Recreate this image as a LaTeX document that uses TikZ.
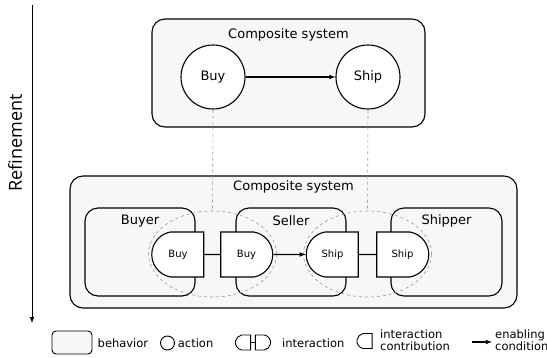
\documentclass[tikz,border=0pt]{standalone}
\usepackage{fontspec}
\setmainfont{DejaVu Sans}
\newfontfamily\refinefont{Open Sans}
\usetikzlibrary {positioning}
\usetikzlibrary{arrows}
\usetikzlibrary{shapes.geometric}
\usetikzlibrary{shapes.misc}

\begin{document}
\begin{tikzpicture}[x=1pt, y=-1pt,
	behavior/.style={draw, line width=1.1pt, fill=gray!6, rounded corners=13pt, inner sep=0pt},
	title/.style={font=\fontsize{13}{15}\selectfont, inner sep=0pt},
	action/.style={circle, draw, line width=1.1pt, fill=white, minimum size=64pt, inner sep=0pt, font=\fontsize{13}{15}\selectfont},
	contribL/.style={rounded rectangle, rounded rectangle east arc=none, rounded rectangle arc length=160, draw, line width=1.1pt, fill=white, minimum width=52pt, minimum height=45pt, inner sep=0pt, font=\fontsize{10}{12}\selectfont},
	contribR/.style={rounded rectangle, rounded rectangle west arc=none, rounded rectangle arc length=160, draw, line width=1.1pt, fill=white, minimum width=52pt, minimum height=45pt, inner sep=0pt, font=\fontsize{10}{12}\selectfont},
	interaction/.style={ellipse, draw=gray!80, dashed, line width=0.6pt, minimum width=128pt, minimum height=86pt},
	refline/.style={dashed, gray!80, line width=0.6pt},
	enable/.style={-latex, line width=1.1pt},
	legend/.style={font=\fontsize{11.5}{12.5}\selectfont, anchor=west, inner sep=0pt, align=left}
	]
	 \useasboundingbox (0,0) rectangle (547,357);

	 % Refinement axis
	 \coordinate (reftop) at (32,5);
	 \coordinate (refbot) at (32,323);
	 \draw[enable, line width=1pt] (reftop) -- (refbot);
	 \node[rotate=90, inner sep=0pt, font=\refinefont\fontsize{18}{20}\selectfont] (refine) at (15,143) {Refinement};

	 % Abstract composite system
	 \node[behavior, minimum width=273pt, minimum height=108pt] (topsys) at (288.5,73) {};
	 \node[title] (toptitle) at (288.5,35) {Composite system};
	 \node[action] (buy) at (213,77) {Buy};
	 \node[action] (ship) at (368,77) {Ship};
	 \draw[enable] (buy) -- (ship);

	 % Refined composite system
	 \node[behavior, minimum width=447pt, minimum height=132pt] (compsys) at (293.5,242) {};
	 \node[title] (comptitle) at (293.5,187) {Composite system};

	 \node[behavior, minimum width=110pt, minimum height=88pt] (buyer) at (140,252) {};
	 \node[behavior, minimum width=110pt, minimum height=88pt] (seller) at (291,252) {};
	 \node[behavior, minimum width=111pt, minimum height=88pt] (shipper) at (446.5,252) {};
	 \node[title] (buyertitle) at (140,221) {Buyer};
	 \node[title] (sellertitle) at (291,221) {Seller};
	 \node[title] (shippertitle) at (446.5,221) {Shipper};

	 \node[interaction] (buyint) at (212.5,254) {};
	 \node[interaction] (shipint) at (367.5,254) {};

	 \node[contribL] (byrbuy) at (178,254.5) {Buy};
	 \node[contribR] (slrbuy) at (246.5,254.5) {Buy};
	 \node[contribL] (slrship) at (332.5,254.5) {Ship};
	 \node[contribR] (shpship) at (402.5,254.5) {Ship};

	 \draw[line width=1.1pt] (byrbuy) -- (slrbuy);
	 \draw[enable] (slrbuy) -- (slrship);
	 \draw[line width=1.1pt] (slrship) -- (shpship);

	 % Refinement links
	 \draw[refline] (buy.south) -- (buyint.north);
	 \draw[refline] (ship.south) -- (shipint.north);

	 % Legend
	 \node[behavior, rounded corners=4pt, line width=0.9pt, minimum width=40pt, minimum height=23pt] (lgbehav) at (72,342.5) {};
	 \node[legend] (lgbehavtxt) at (97.5,343) {behavior};
	 \node[action, line width=0.9pt, minimum size=14pt] (lgaction) at (167.5,343) {};
	 \node[legend] (lgactiontxt) at (177.7,343) {action};
	 \node[contribL, line width=0.9pt, minimum width=12pt, minimum height=15pt] (lgleft) at (243,342.5) {};
	 \node[contribR, line width=0.9pt, minimum width=12pt, minimum height=15pt] (lgright) at (263,342.5) {};
	 \draw[line width=0.9pt] (lgleft) -- (lgright);
	 \node[legend] (lginttxt) at (282,343) {interaction};
	 \node[contribL, line width=0.9pt, minimum width=12pt, minimum height=15pt] (lgcontrib) at (364.5,341) {};
	 \node[legend] (lgcontribtxt) at (380,340) {interaction\\contribution};
	 \coordinate (lgfrom) at (472,342);
	 \coordinate (lgto) at (492,342);
	 \draw[enable] (lgfrom) -- (lgto);
	 \node[legend] (lgenabletxt) at (495,340) {enabling\\condition};
\end{tikzpicture}
\end{document}
